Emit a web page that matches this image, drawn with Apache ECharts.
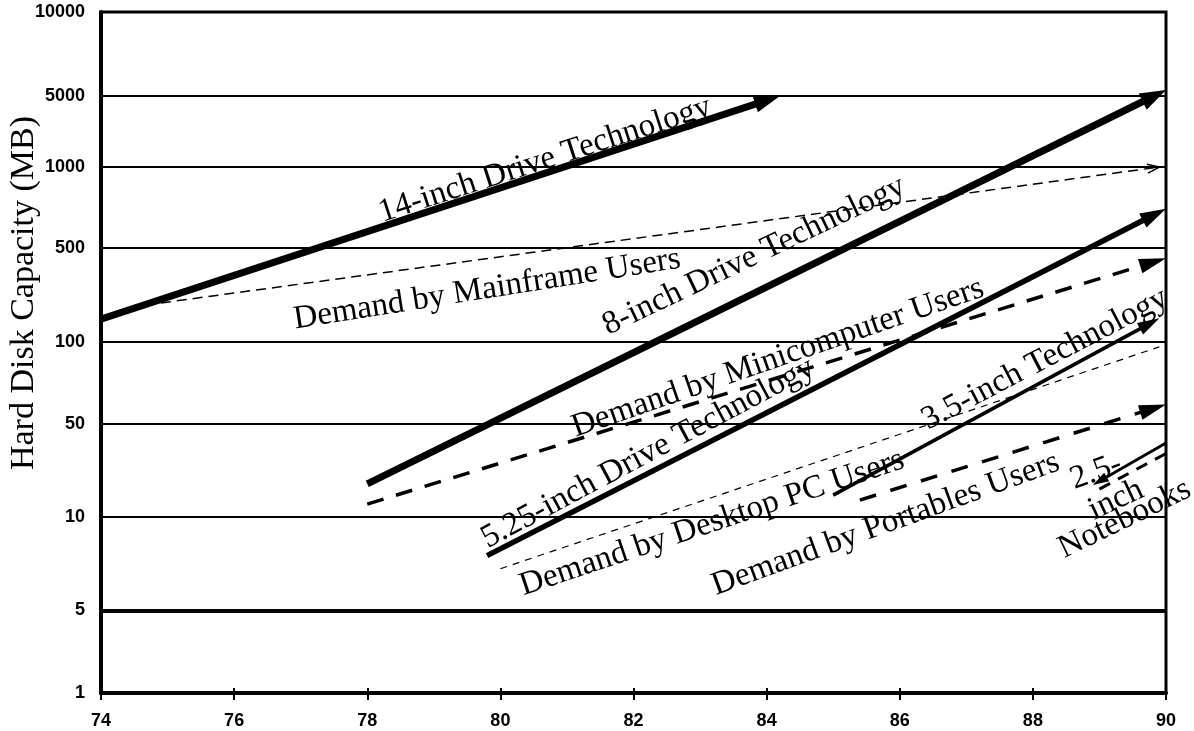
<!DOCTYPE html>
<html><head><meta charset="utf-8">
<script src="https://cdn.jsdelivr.net/npm/echarts@6/dist/echarts.min.js"></script>
<style>html,body{margin:0;padding:0;background:#fff}#c{width:1194px;height:731px}</style>
</head><body><div id="c"></div>
<script>
// ---- capacity scale: tick labels and where each rung sits on the (hand-drawn) axis ----
const yTickLabels = [1, 5, 10, 50, 100, 500, 1000, 5000, 10000];
const yRungPos = [0, 0.975, 2.068, 3.16, 4.123, 5.228, 6.179, 7.013, 8];
const xMin = 74, xMax = 90, xStep = 2;

// ---- trajectories: [start, end] year and capacity (MB) ----
const drive14Years = [74, 84.2],   drive14MB = [148, 5000];
const mainframeYears = [74.9, 89.9], mainframeMB = [195, 1000];
const drive8Years = [78, 90],      drive8MB = [17.7, 5250];
const miniYears = [78, 90],        miniMB = [12.5, 420];
const drive525Years = [79.8, 90],  drive525MB = [7.5, 700];
const desktopYears = [80, 89.9],   desktopMB = [6.8, 96];
const drive35Years = [85, 89.9],   drive35MB = [14.6, 150];
const portableYears = [85.4, 90],  portableMB = [13.4, 59];
const drive25Years = [88.9, 90],   drive25MB = [17.4, 36];
const notebookYears = [89.0, 90],  notebookMB = [16.2, 30];

// ---- annotation texts ----
const labelTexts = ['14-inch Drive Technology', 'Demand by Mainframe Users', '8-inch Drive Technology',
  'Demand by Minicomputer Users', '5.25-inch Drive Technology', 'Demand by Desktop PC Users',
  '3.5-inch Technology', 'Demand by Portables Users', '2.5-', 'inch', 'Notebooks'];
const labelYears = [80.67, 79.8, 83.81, 84.17, 82.22, 83.18, 88.18, 85.79, 88.95, 89.25, 89.38];
const labelMB = [1175, 246, 436, 87.4, 30.2, 9.56, 86.5, 9.49, 21.8, 13.4, 9.85];
const labelAngles = [18, 9, 25.5, 19, 28, 18.5, 27.5, 20, 20, 25, 26];

// capacity -> axis position (log interpolation between neighbouring rungs)
function toAxis(v) {
  const t = yTickLabels, p = yRungPos;
  for (let i = 0; i < t.length - 1; i++) {
    if (v <= t[i + 1] || i === t.length - 2)
      return p[i] + (p[i + 1] - p[i]) * Math.log(v / t[i]) / Math.log(t[i + 1] / t[i]);
  }
}
function rungLabel(v) {
  let best = 0;
  yRungPos.forEach((p, i) => { if (Math.abs(p - v) < Math.abs(yRungPos[best] - v)) best = i; });
  return String(yTickLabels[best]);
}

function trend(name, years, mb, st) {
  return {
    type: 'custom', name, silent: true, animation: false, clip: false, z: 5,
    data: [[years[0], toAxis(mb[0]), years[1], toAxis(mb[1])]],
    encode: { x: [0, 2], y: [1, 3] },
    renderItem(params, api) {
      const a = api.coord([api.value(0), api.value(1)]);
      const b = api.coord([api.value(2), api.value(3)]);
      const dx = b[0] - a[0], dy = b[1] - a[1], len = Math.hypot(dx, dy);
      const ux = dx / len, uy = dy / len;
      const kids = [];
      let s = a.slice(), e = b.slice();
      function head(tip, ex, ey) {
        const L = st.headLen, W = st.headWid / 2;
        const bx = tip[0] - ex * L, by = tip[1] - ey * L;
        const pts = [[bx - ey * W, by + ex * W], [tip[0], tip[1]], [bx + ey * W, by - ex * W]];
        if (st.open) return { type: 'polyline', shape: { points: pts }, style: { stroke: '#000', lineWidth: 1.6, fill: null } };
        return { type: 'polygon', shape: { points: pts }, style: { fill: '#000' } };
      }
      if (st.end) {
        kids.push(head(b, ux, uy));
        if (!st.open) e = [b[0] - ux * st.headLen * 0.6, b[1] - uy * st.headLen * 0.6];
      }
      if (st.start) {
        kids.push(head(a, -ux, -uy));
        s = [a[0] + ux * st.headLen * 0.6, a[1] + uy * st.headLen * 0.6];
      }
      kids.unshift({ type: 'line', shape: { x1: s[0], y1: s[1], x2: e[0], y2: e[1] },
        style: { stroke: '#000', lineWidth: st.width, lineDash: st.dash || null, lineCap: 'butt' } });
      return { type: 'group', children: kids };
    }
  };
}

const series = [
  trend('14-inch Drive Technology', drive14Years, drive14MB, { width: 7, end: true, headLen: 26, headWid: 17 }),
  trend('Demand by Mainframe Users', mainframeYears, mainframeMB, { width: 1.5, dash: [10, 6], end: true, open: true, headLen: 12, headWid: 9 }),
  trend('8-inch Drive Technology', drive8Years, drive8MB, { width: 7, end: true, headLen: 26, headWid: 18 }),
  trend('Demand by Minicomputer Users', miniYears, miniMB, { width: 3.5, dash: [17, 13], end: true, headLen: 27, headWid: 15 }),
  trend('5.25-inch Drive Technology', drive525Years, drive525MB, { width: 5.5, end: true, headLen: 26, headWid: 16 }),
  trend('Demand by Desktop PC Users', desktopYears, desktopMB, { width: 1.2, dash: [7, 6] }),
  trend('3.5-inch Technology', drive35Years, drive35MB, { width: 3.5, end: true, headLen: 22, headWid: 13 }),
  trend('Demand by Portables Users', portableYears, portableMB, { width: 3.5, dash: [17, 15], end: true, headLen: 27, headWid: 15 }),
  trend('2.5-inch Notebooks', drive25Years, drive25MB, { width: 3, start: true, headLen: 16, headWid: 10 }),
  trend('Demand by Notebook Users', notebookYears, notebookMB, { width: 3, dash: [12, 9] }),
  {
    type: 'line', name: 'rule5', data: [], silent: true, z: 3,
    markLine: { silent: true, animation: false, symbol: 'none', label: { show: false },
      lineStyle: { color: '#000', width: 4, type: 'solid' }, emphasis: { disabled: true },
      data: [{ yAxis: toAxis(5) }] }
  },
  {
    type: 'custom', name: 'labels', silent: true, animation: false, clip: false, z: 10,
    data: labelTexts.map((t, i) => [labelYears[i], toAxis(labelMB[i]), labelAngles[i], i]),
    encode: { x: 0, y: 1 },
    renderItem(params, api) {
      const p = api.coord([api.value(0), api.value(1)]);
      return { type: 'text', x: p[0], y: p[1], rotation: api.value(2) * Math.PI / 180,
        style: { text: labelTexts[api.value(3)], font: '33px "Liberation Serif"', fill: '#000',
          align: 'center', verticalAlign: 'middle' } };
    }
  }
];

const chart = echarts.init(document.getElementById('c'), null, { renderer: 'canvas' });
chart.setOption({
  animation: false,
  backgroundColor: '#fff',
  grid: { left: 101, right: 28, top: 12, bottom: 38, show: true, borderColor: '#000', borderWidth: 3, backgroundColor: 'transparent' },
  xAxis: [{
    type: 'value', min: xMin, max: xMax, interval: xStep,
    axisLine: { show: true, lineStyle: { color: '#000', width: 4 } },
    axisTick: { show: true, length: 7, lineStyle: { color: '#000', width: 2 } },
    axisLabel: { color: '#000', fontFamily: 'Liberation Sans', fontSize: 18, fontWeight: 'bold', margin: 19 },
    splitLine: { show: false }
  }, {
    type: 'value', min: xMin, max: xMax, interval: xStep, position: 'bottom',
    axisLine: { show: false },
    axisTick: { show: true, inside: true, length: 5, lineStyle: { color: '#000', width: 2 } },
    axisLabel: { show: false }, splitLine: { show: false }
  }],
  yAxis: {
    type: 'value', min: 0, max: 8,
    axisLine: { show: true, lineStyle: { color: '#000', width: 4 } },
    axisTick: { show: false, customValues: yRungPos },
    axisLabel: { color: '#000', fontFamily: 'Liberation Sans', fontSize: 18, fontWeight: 'bold', margin: 16,
      customValues: yRungPos, formatter: v => rungLabel(v) },
    splitLine: { show: true, lineStyle: { color: '#000', width: 2 } }
  },
  graphic: [{
    type: 'text', x: 24, y: 293, rotation: Math.PI / 2, silent: true,
    style: { text: 'Hard Disk Capacity (MB)', font: '34px "Liberation Serif"', fill: '#000', align: 'center', verticalAlign: 'middle' }
  }],
  series
});
</script>
</body></html>
